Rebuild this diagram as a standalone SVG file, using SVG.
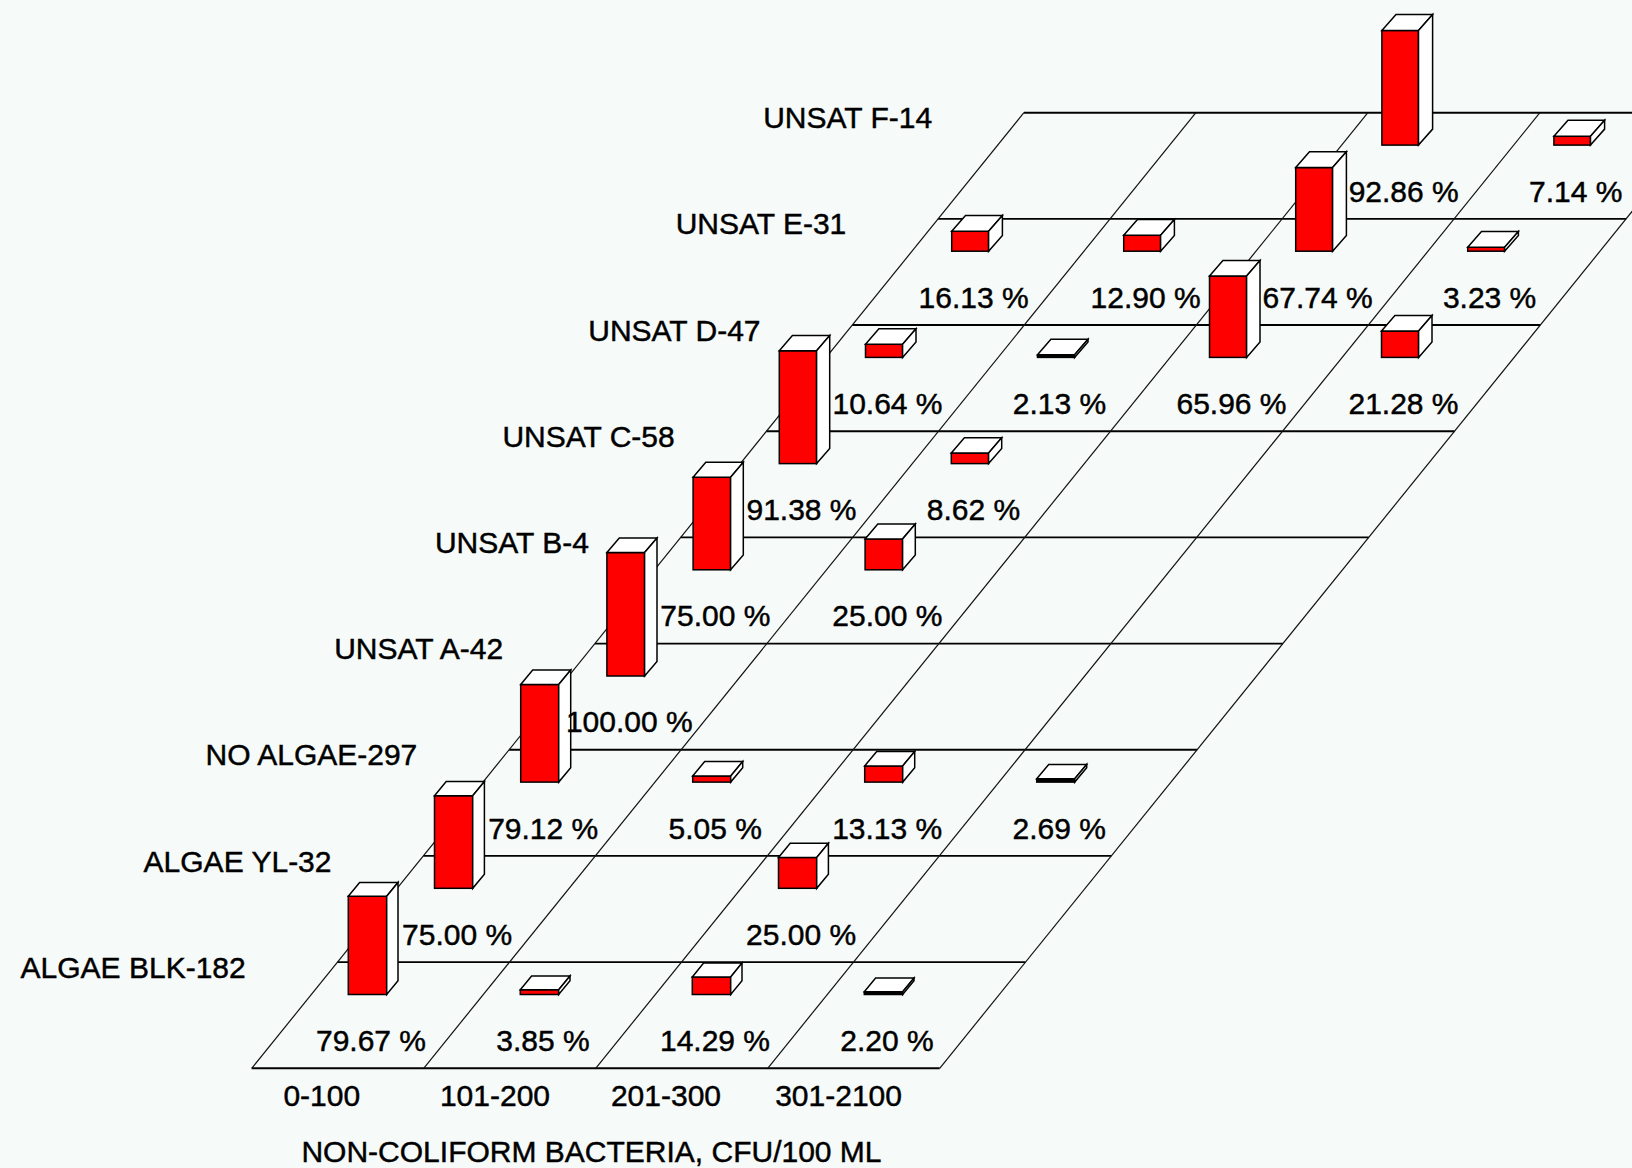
<svg xmlns="http://www.w3.org/2000/svg" width="1632" height="1168" viewBox="0 0 1632 1168">
<style>
.bg{fill:#f6faf8}
.h{stroke:#000;stroke-width:1.9;fill:none}
.d{stroke:#111;stroke-width:1.2;fill:none}
.fr{fill:#f00;stroke:#000;stroke-width:1.5}
.fw{fill:#fff;stroke:#000;stroke-width:1.5}
.fk{fill:#000;stroke:#000;stroke-width:1.5}
text{font-family:"Liberation Sans",Arial,sans-serif;font-size:30px;fill:#000;stroke:#000;stroke-width:0.45}
.rl{text-anchor:end}
.pl{text-anchor:middle}
</style>
<rect class="bg" x="0" y="0" width="1632" height="1168"/>
<g id="grid">
<line class="h" x1="251.7" y1="1068.3" x2="939.7" y2="1068.3"/>
<line class="h" x1="337.5" y1="962.1" x2="1025.5" y2="962.1"/>
<line class="h" x1="423.3" y1="855.9" x2="1111.3" y2="855.9"/>
<line class="h" x1="509.1" y1="749.8" x2="1197.1" y2="749.8"/>
<line class="h" x1="594.9" y1="643.6" x2="1282.9" y2="643.6"/>
<line class="h" x1="680.7" y1="537.4" x2="1368.7" y2="537.4"/>
<line class="h" x1="766.5" y1="431.2" x2="1454.5" y2="431.2"/>
<line class="h" x1="852.3" y1="325.0" x2="1540.3" y2="325.0"/>
<line class="h" x1="938.1" y1="218.9" x2="1626.1" y2="218.9"/>
<line class="h" x1="1023.9" y1="112.7" x2="1711.9" y2="112.7"/>
<line class="d" x1="251.7" y1="1068.3" x2="1023.9" y2="112.7"/>
<line class="d" x1="423.7" y1="1068.3" x2="1195.9" y2="112.7"/>
<line class="d" x1="595.7" y1="1068.3" x2="1367.9" y2="112.7"/>
<line class="d" x1="767.7" y1="1068.3" x2="1539.9" y2="112.7"/>
<line class="d" x1="939.7" y1="1068.3" x2="1711.9" y2="112.7"/>
</g>
<g id="bars">
<g id="bar-unsatf-201">
<rect class="fr" x="1381.9" y="30.5" width="36.6" height="114.6"/>
<polygon class="fw" points="1381.9,30.5 1418.5,30.5 1432.6,14.5 1396.0,14.5"/>
<polygon class="fw" points="1418.5,145.1 1418.5,30.5 1432.6,14.5 1432.6,129.1"/>
</g>
<g id="bar-unsatf-301">
<rect class="fr" x="1553.9" y="136.3" width="36.6" height="8.8"/>
<polygon class="fw" points="1553.9,136.3 1590.5,136.3 1604.6,120.3 1568.0,120.3"/>
<polygon class="fw" points="1590.5,145.1 1590.5,136.3 1604.6,120.3 1604.6,129.1"/>
</g>
<g id="bar-unsate-0">
<rect class="fr" x="951.7" y="231.3" width="36.9" height="19.9"/>
<polygon class="fw" points="951.7,231.3 988.6,231.3 1002.4,215.5 965.5,215.5"/>
<polygon class="fw" points="988.6,251.2 988.6,231.3 1002.4,215.5 1002.4,235.4"/>
</g>
<g id="bar-unsate-101">
<rect class="fr" x="1123.7" y="235.3" width="36.9" height="15.9"/>
<polygon class="fw" points="1123.7,235.3 1160.6,235.3 1174.4,219.5 1137.5,219.5"/>
<polygon class="fw" points="1160.6,251.2 1160.6,235.3 1174.4,219.5 1174.4,235.4"/>
</g>
<g id="bar-unsate-201">
<rect class="fr" x="1295.7" y="167.6" width="36.9" height="83.6"/>
<polygon class="fw" points="1295.7,167.6 1332.6,167.6 1346.4,151.8 1309.5,151.8"/>
<polygon class="fw" points="1332.6,251.2 1332.6,167.6 1346.4,151.8 1346.4,235.4"/>
</g>
<g id="bar-unsate-301">
<rect class="fr" x="1467.7" y="247.2" width="36.9" height="4.0"/>
<polygon class="fw" points="1467.7,247.2 1504.6,247.2 1518.4,231.4 1481.5,231.4"/>
<polygon class="fw" points="1504.6,251.2 1504.6,247.2 1518.4,231.4 1518.4,235.4"/>
</g>
<g id="bar-unsatd-0">
<rect class="fr" x="865.5" y="344.3" width="37.1" height="13.1"/>
<polygon class="fw" points="865.5,344.3 902.6,344.3 916.0,328.8 878.9,328.8"/>
<polygon class="fw" points="902.6,357.4 902.6,344.3 916.0,328.8 916.0,341.9"/>
</g>
<g id="bar-unsatd-101">
<rect class="fk" x="1037.5" y="354.8" width="37.1" height="2.6"/>
<polygon class="fw" points="1037.5,354.8 1074.6,354.8 1088.0,339.3 1050.9,339.3"/>
<polygon class="fw" points="1074.6,357.4 1074.6,354.8 1088.0,339.3 1088.0,341.9"/>
</g>
<g id="bar-unsatd-201">
<rect class="fr" x="1209.5" y="276.0" width="37.1" height="81.4"/>
<polygon class="fw" points="1209.5,276.0 1246.6,276.0 1260.0,260.5 1222.9,260.5"/>
<polygon class="fw" points="1246.6,357.4 1246.6,276.0 1260.0,260.5 1260.0,341.9"/>
</g>
<g id="bar-unsatd-301">
<rect class="fr" x="1381.5" y="331.1" width="37.1" height="26.3"/>
<polygon class="fw" points="1381.5,331.1 1418.6,331.1 1432.0,315.6 1394.9,315.6"/>
<polygon class="fw" points="1418.6,357.4 1418.6,331.1 1432.0,315.6 1432.0,341.9"/>
</g>
<g id="bar-unsatc-0">
<rect class="fr" x="779.3" y="350.8" width="37.3" height="112.8"/>
<polygon class="fw" points="779.3,350.8 816.6,350.8 829.7,335.6 792.4,335.6"/>
<polygon class="fw" points="816.6,463.6 816.6,350.8 829.7,335.6 829.7,448.4"/>
</g>
<g id="bar-unsatc-101">
<rect class="fr" x="951.3" y="453.0" width="37.3" height="10.6"/>
<polygon class="fw" points="951.3,453.0 988.6,453.0 1001.7,437.8 964.4,437.8"/>
<polygon class="fw" points="988.6,463.6 988.6,453.0 1001.7,437.8 1001.7,448.4"/>
</g>
<g id="bar-unsatb-0">
<rect class="fr" x="693.1" y="477.2" width="37.5" height="92.6"/>
<polygon class="fw" points="693.1,477.2 730.6,477.2 743.3,462.3 705.8,462.3"/>
<polygon class="fw" points="730.6,569.8 730.6,477.2 743.3,462.3 743.3,554.9"/>
</g>
<g id="bar-unsatb-101">
<rect class="fr" x="865.1" y="538.9" width="37.5" height="30.9"/>
<polygon class="fw" points="865.1,538.9 902.6,538.9 915.3,524.0 877.8,524.0"/>
<polygon class="fw" points="902.6,569.8 902.6,538.9 915.3,524.0 915.3,554.9"/>
</g>
<g id="bar-unsata-0">
<rect class="fr" x="606.9" y="552.6" width="37.7" height="123.4"/>
<polygon class="fw" points="606.9,552.6 644.6,552.6 657.0,538.0 619.3,538.0"/>
<polygon class="fw" points="644.6,676.0 644.6,552.6 657.0,538.0 657.0,661.4"/>
</g>
<g id="bar-noalgae-0">
<rect class="fr" x="520.7" y="684.5" width="38.0" height="97.6"/>
<polygon class="fw" points="520.7,684.5 558.7,684.5 570.7,670.1 532.7,670.1"/>
<polygon class="fw" points="558.7,782.1 558.7,684.5 570.7,670.1 570.7,767.7"/>
</g>
<g id="bar-noalgae-101">
<rect class="fr" x="692.7" y="775.9" width="38.0" height="6.2"/>
<polygon class="fw" points="692.7,775.9 730.7,775.9 742.7,761.5 704.7,761.5"/>
<polygon class="fw" points="730.7,782.1 730.7,775.9 742.7,761.5 742.7,767.7"/>
</g>
<g id="bar-noalgae-201">
<rect class="fr" x="864.7" y="765.9" width="38.0" height="16.2"/>
<polygon class="fw" points="864.7,765.9 902.7,765.9 914.7,751.5 876.7,751.5"/>
<polygon class="fw" points="902.7,782.1 902.7,765.9 914.7,751.5 914.7,767.7"/>
</g>
<g id="bar-noalgae-301">
<rect class="fk" x="1036.7" y="778.8" width="38.0" height="3.3"/>
<polygon class="fw" points="1036.7,778.8 1074.7,778.8 1086.7,764.4 1048.7,764.4"/>
<polygon class="fw" points="1074.7,782.1 1074.7,778.8 1086.7,764.4 1086.7,767.7"/>
</g>
<g id="bar-algaeyl-0">
<rect class="fr" x="434.5" y="795.7" width="38.2" height="92.6"/>
<polygon class="fw" points="434.5,795.7 472.7,795.7 484.4,781.6 446.2,781.6"/>
<polygon class="fw" points="472.7,888.3 472.7,795.7 484.4,781.6 484.4,874.2"/>
</g>
<g id="bar-algaeyl-201">
<rect class="fr" x="778.5" y="857.4" width="38.2" height="30.9"/>
<polygon class="fw" points="778.5,857.4 816.7,857.4 828.4,843.3 790.2,843.3"/>
<polygon class="fw" points="816.7,888.3 816.7,857.4 828.4,843.3 828.4,874.2"/>
</g>
<g id="bar-algaeblk-0">
<rect class="fr" x="348.3" y="896.2" width="38.4" height="98.3"/>
<polygon class="fw" points="348.3,896.2 386.7,896.2 398.0,882.4 359.6,882.4"/>
<polygon class="fw" points="386.7,994.5 386.7,896.2 398.0,882.4 398.0,980.7"/>
</g>
<g id="bar-algaeblk-101">
<rect class="fr" x="520.3" y="989.7" width="38.4" height="4.8"/>
<polygon class="fw" points="520.3,989.7 558.7,989.7 570.0,975.9 531.6,975.9"/>
<polygon class="fw" points="558.7,994.5 558.7,989.7 570.0,975.9 570.0,980.7"/>
</g>
<g id="bar-algaeblk-201">
<rect class="fr" x="692.3" y="976.9" width="38.4" height="17.6"/>
<polygon class="fw" points="692.3,976.9 730.7,976.9 742.0,963.1 703.6,963.1"/>
<polygon class="fw" points="730.7,994.5 730.7,976.9 742.0,963.1 742.0,980.7"/>
</g>
<g id="bar-algaeblk-301">
<rect class="fk" x="864.3" y="991.8" width="38.4" height="2.7"/>
<polygon class="fw" points="864.3,991.8 902.7,991.8 914.0,978.0 875.6,978.0"/>
<polygon class="fw" points="902.7,994.5 902.7,991.8 914.0,978.0 914.0,980.7"/>
</g>
</g>
<g id="row-labels">
<text class="rl" x="245.7" y="977.7">ALGAE BLK-182</text>
<text class="rl" x="331.5" y="871.5">ALGAE YL-32</text>
<text class="rl" x="417.3" y="765.3">NO ALGAE-297</text>
<text class="rl" x="503.1" y="659.2">UNSAT A-42</text>
<text class="rl" x="588.9" y="553.0">UNSAT B-4</text>
<text class="rl" x="674.7" y="446.8">UNSAT C-58</text>
<text class="rl" x="760.5" y="340.6">UNSAT D-47</text>
<text class="rl" x="846.3" y="234.4">UNSAT E-31</text>
<text class="rl" x="932.1" y="128.3">UNSAT F-14</text>
</g>
<g id="pct-labels">
<text class="pl" x="371.0" y="1050.9">79.67 %</text>
<text class="pl" x="543.0" y="1050.9">3.85 %</text>
<text class="pl" x="715.0" y="1050.9">14.29 %</text>
<text class="pl" x="887.0" y="1050.9">2.20 %</text>
<text class="pl" x="457.1" y="944.7">75.00 %</text>
<text class="pl" x="801.1" y="944.7">25.00 %</text>
<text class="pl" x="543.2" y="838.5">79.12 %</text>
<text class="pl" x="715.2" y="838.5">5.05 %</text>
<text class="pl" x="887.2" y="838.5">13.13 %</text>
<text class="pl" x="1059.2" y="838.5">2.69 %</text>
<text class="pl" x="629.3" y="732.4">100.00 %</text>
<text class="pl" x="715.4" y="626.2">75.00 %</text>
<text class="pl" x="887.4" y="626.2">25.00 %</text>
<text class="pl" x="801.5" y="520.0">91.38 %</text>
<text class="pl" x="973.5" y="520.0">8.62 %</text>
<text class="pl" x="887.5" y="413.8">10.64 %</text>
<text class="pl" x="1059.5" y="413.8">2.13 %</text>
<text class="pl" x="1231.5" y="413.8">65.96 %</text>
<text class="pl" x="1403.5" y="413.8">21.28 %</text>
<text class="pl" x="973.6" y="307.6">16.13 %</text>
<text class="pl" x="1145.6" y="307.6">12.90 %</text>
<text class="pl" x="1317.6" y="307.6">67.74 %</text>
<text class="pl" x="1489.6" y="307.6">3.23 %</text>
<text class="pl" x="1403.7" y="201.5">92.86 %</text>
<text class="pl" x="1575.7" y="201.5">7.14 %</text>
</g>
<g id="axis-labels">
<text class="pl" x="321.8" y="1106">0-100</text>
<text class="pl" x="495" y="1106">101-200</text>
<text class="pl" x="666" y="1106">201-300</text>
<text class="pl" x="838.6" y="1106">301-2100</text>
<text class="pl" x="591.5" y="1162">NON-COLIFORM BACTERIA, CFU/100 ML</text>
</g>
</svg>
